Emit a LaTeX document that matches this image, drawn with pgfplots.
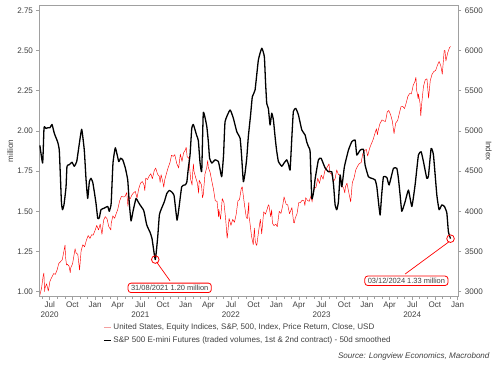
\documentclass[border=0pt]{standalone}
\usepackage{pgfplots}
\pgfplotsset{compat=1.18}
\usepackage{fontspec}
\setmainfont{Liberation Sans}
\definecolor{axisgrey}{HTML}{A0A0A0}
\definecolor{txtgrey}{HTML}{404040}
\definecolor{lightred}{HTML}{F4A0A0}
\definecolor{legblack}{HTML}{303030}

\begin{document}
\begin{tikzpicture}
\useasboundingbox (0,0) rectangle (500bp,375bp);
\pgfplotsset{
  base/.style={scale only axis, width=418.8bp, height=291.4bp,
    at={(39.5bp,78.3bp)}, anchor=south west,
    xmin=4.65, xmax=60.1,
    axis line style={axisgrey, line width=0.6bp},
    tick style={axisgrey, line width=0.6bp},
    tick align=outside, major tick length=3bp, minor tick length=2.5bp,
    tick label style={font=\fontsize{8.1}{9.6}\selectfont, text=txtgrey},
    label style={font=\fontsize{8.1}{10}\selectfont, text=txtgrey},
    /pgf/number format/assume math mode=true},
}
% right axis: S&P 500 index
\begin{axis}[base, axis y line*=right, axis x line=none,
  ymin=2938, ymax=6562, ytick={3000,3500,...,6500},
  /pgf/number format/set thousands separator={},
  ylabel={Index},
  ylabel style={at={(axis description cs:1.073,0.5)}, anchor=center, rotate=180}]
\addplot[red, line width=0.45bp, line join=round] table {
4.69 2955
4.92 3044
5.13 3194
5.23 3232
5.33 3002
5.36 3041
5.59 3098
5.82 3009
6.03 3130
6.30 3185
6.52 3225
6.75 3216
6.98 3271
7.20 3351
7.43 3373
7.66 3397
7.89 3508
8.03 3580
8.10 3427
8.23 3332
8.33 3341
8.56 3319
8.72 3237
8.79 3298
9.03 3348
9.26 3477
9.36 3535
9.49 3483
9.72 3465
9.95 3270
10.16 3509
10.39 3585
10.62 3558
10.85 3638
11.10 3699
11.33 3663
11.56 3709
11.75 3703
11.98 3756
12.23 3825
12.46 3768
12.69 3841
12.92 3714
13.13 3887
13.36 3934
13.59 3907
13.82 3811
14.10 3768
14.13 3842
14.36 3943
14.59 3913
14.82 3975
15.00 4020
15.26 4129
15.49 4185
15.72 4180
15.95 4181
16.20 4233
16.36 4063
16.43 4174
16.66 4156
16.89 4204
17.10 4230
17.33 4247
17.56 4166
17.79 4281
18.03 4352
18.26 4370
18.49 4327
18.59 4258
18.72 4412
18.95 4395
19.16 4437
19.39 4468
19.59 4405
19.85 4509
20.03 4537
20.30 4459
20.52 4433
20.62 4358
20.75 4455
21.00 4357
21.10 4300
21.23 4391
21.46 4471
21.69 4545
21.92 4605
22.13 4697
22.36 4683
22.56 4704
22.82 4595
22.95 4567
23.07 4538
23.30 4712
23.52 4620
23.72 4726
23.98 4766
24.07 4796
24.20 4677
24.43 4663
24.66 4398
24.85 4326
24.89 4432
25.03 4589
25.10 4500
25.33 4419
25.56 4349
25.72 4225
25.79 4385
26.10 4329
26.23 4170
26.33 4204
26.56 4463
26.79 4543
26.92 4631
27.00 4546
27.23 4488
27.43 4393
27.69 4272
27.92 4132
28.16 4123
28.36 3930
28.39 4024
28.62 3901
28.85 4158
29.07 4109
29.30 3901
29.49 3666
29.52 3675
29.75 3912
30.00 3825
30.23 3899
30.46 3863
30.69 3962
30.92 4130
31.13 4145
31.36 4280
31.49 4305
31.59 4228
31.82 4058
32.03 3924
32.16 3908
32.36 4110
32.39 3932
32.49 3873
32.72 3693
32.95 3586
33.10 3791
33.20 3640
33.36 3577
33.43 3583
33.66 3753
33.89 3901
34.07 3720
34.33 3993
34.56 3965
34.79 4026
34.95 4080
35.03 4072
35.26 3934
35.39 4019
35.49 3852
35.69 3822
35.95 3840
36.13 3808
36.39 3999
36.62 3973
36.85 4071
37.03 4179
37.30 4090
37.52 4079
37.75 3970
38.07 4046
38.30 3862
38.39 3855
38.52 3917
38.75 3971
38.98 4109
39.16 4105
39.43 4138
39.66 4133
39.79 4071
39.89 4169
40.13 4136
40.36 4124
40.59 4192
40.75 4115
40.82 4205
41.03 4282
41.26 4299
41.49 4410
41.72 4348
41.95 4450
42.20 4399
42.43 4505
42.66 4536
42.98 4589
43.10 4478
43.33 4464
43.56 4370
43.79 4406
44.00 4515
44.23 4457
44.46 4450
44.69 4320
44.92 4288
45.07 4229
45.16 4308
45.36 4349
45.62 4224
45.85 4117
46.07 4358
46.30 4415
46.52 4514
46.75 4559
47.00 4595
47.23 4604
47.46 4719
47.69 4755
47.92 4770
48.10 4688
48.36 4784
48.59 4840
48.82 4891
49.03 4959
49.26 5027
49.39 4953
49.49 5006
49.72 5089
50.00 5137
50.23 5124
50.46 5117
50.69 5234
50.89 5254
51.13 5204
51.36 5123
51.59 4967
51.82 5100
52.07 5128
52.30 5223
52.52 5303
52.75 5305
52.98 5278
53.20 5347
53.43 5431
53.66 5465
53.89 5460
54.13 5567
54.36 5615
54.49 5667
54.59 5505
54.79 5399
54.82 5459
55.03 5346
55.13 5186
55.26 5344
55.49 5554
55.72 5634
55.95 5648
56.16 5408
56.39 5626
56.62 5703
56.85 5738
57.10 5751
57.33 5815
57.56 5864
57.79 5808
57.98 5705
58.00 5729
58.23 5996
58.33 6001
58.46 5870
58.69 5969
58.92 6032
59.07 6050
};
\end{axis}
% left axis: E-mini volumes
\begin{axis}[base,
  ymin=0.969, ymax=2.781, ytick={1,1.25,...,2.75},
  yticklabel style={/pgf/number format/.cd, fixed, fixed zerofill, precision=2},
  xtick pos=bottom, ytick pos=left,
  xtick={6,9,...,60},
  xticklabels={Jul\\2020,Oct,Jan,Apr,Jul\\2021,Oct,Jan,Apr,Jul\\2022,Oct,Jan,Apr,Jul\\2023,Oct,Jan,Apr,Jul\\2024,Oct,Jan},
  xticklabel style={align=center, yshift=-1bp, inner ysep=1bp},
  minor xtick={5,6,...,60},
  ylabel={million},
  ylabel style={at={(axis description cs:-0.070,0.5)}, anchor=center},
  legend style={at={(axis description cs:0.1516,-0.086)}, anchor=north west,
    draw=none, fill=none, inner sep=0pt, row sep=1.5bp,
    font=\fontsize{8.1}{10}\selectfont, text=txtgrey},
  legend cell align=left,
  legend image code/.code={\draw[#1] (0bp,0bp) -- (7bp,0bp);}]
\addlegendimage{lightred, line width=1bp}
\addlegendentry{United States, Equity Indices, S\&P, 500, Index, Price Return, Close, USD}
\addplot[black, line width=1.3bp, line join=round, smooth, tension=0.25] table {
4.70 1.91
5.07 1.80
5.25 2.02
5.51 2.015
5.78 2.02
6.04 2.02
6.31 2.04
6.61 1.985
7.06 1.93
7.27 1.88
7.43 1.70
7.56 1.55
7.70 1.51
7.89 1.54
8.16 1.65
8.29 1.78
8.60 1.79
8.95 1.805
9.26 1.78
9.58 1.81
9.92 1.92
10.24 2.01
10.58 1.88
10.81 1.70
11.03 1.58
11.25 1.684
11.47 1.705
11.70 1.68
11.91 1.62
12.13 1.55
12.36 1.456
12.57 1.46
12.79 1.51
13.23 1.52
13.68 1.53
13.89 1.50
14.12 1.54
14.19 1.60
14.38 1.80
14.69 1.895
15.14 1.81
15.38 1.83
15.67 1.82
16.01 1.77
16.33 1.695
16.54 1.55
16.77 1.44
17.03 1.50
17.43 1.58
17.70 1.56
17.96 1.54
18.40 1.51
18.53 1.49
18.85 1.415
19.28 1.37
19.55 1.33
19.98 1.20
20.30 1.34
20.52 1.477
20.74 1.51
21.18 1.56
21.50 1.61
21.84 1.63
22.16 1.62
22.46 1.60
22.66 1.52
22.86 1.445
23.06 1.50
23.48 1.653
23.92 1.664
24.15 1.68
24.36 1.77
24.58 1.85
24.81 2.016
25.02 2.04
25.47 1.97
25.68 1.94
25.91 1.80
26.13 1.75
26.34 2.113
26.79 2.03
27.01 1.93
27.17 1.83
27.46 1.80
27.89 1.82
28.33 1.81
28.56 1.76
28.78 1.715
29.02 1.85
29.22 2.057
29.88 2.13
30.32 2.078
30.77 1.995
31.21 1.954
31.40 1.85
31.64 1.684
31.87 1.74
32.09 1.83
32.30 1.964
32.60 2.10
32.83 2.213
33.19 2.254
33.63 2.441
34.08 2.514
34.42 2.461
34.58 2.30
34.74 2.17
34.95 2.14
35.18 2.037
35.40 2.11
35.62 2.068
35.84 1.964
36.04 1.88
36.28 1.81
36.73 1.78
37.03 1.80
37.39 1.82
37.63 1.79
37.83 1.757
38.05 1.95
38.26 2.12
38.58 2.14
38.93 2.10
39.38 2.006
39.81 1.975
40.04 1.93
40.28 1.90
40.48 1.87
40.70 1.58
40.94 1.62
41.14 1.70
41.58 1.82
41.93 1.83
42.46 1.77
42.90 1.746
43.35 1.746
43.59 1.66
43.79 1.54
44.01 1.51
44.23 1.56
44.45 1.726
44.68 1.653
45.02 1.777
45.55 1.88
46.00 1.933
46.44 1.943
46.66 1.85
47.10 1.88
47.54 1.885
47.76 1.788
48.20 1.715
48.65 1.705
49.09 1.695
49.31 1.653
49.55 1.55
49.75 1.477
49.95 1.60
50.19 1.715
50.64 1.71
50.94 1.664
51.51 1.767
51.96 1.767
52.17 1.705
52.40 1.60
52.62 1.50
53.06 1.56
53.50 1.632
53.95 1.53
54.38 1.664
54.82 1.85
55.18 1.87
55.48 1.81
55.93 1.705
56.15 1.72
56.50 1.89
56.81 1.85
57.26 1.60
57.56 1.51
57.92 1.54
58.26 1.53
58.58 1.49
58.79 1.373
59.07 1.33
};
\addlegendentry{S\&P 500 E-mini Futures (traded volumes, 1st \& 2nd contract) - 50d smoothed}
% annotations
\addplot[only marks, mark=o, mark size=3.8bp, red, mark options={line width=0.8bp}, forget plot] coordinates {(19.98,1.20) (59.07,1.33)};
\draw[red, line width=0.7bp] (axis cs:20.15,1.185) -- (axis cs:21.93,1.068);
\draw[red, line width=0.7bp] (axis cs:58.85,1.31) -- (axis cs:53.06,1.110);
\node[draw=red, line width=0.8bp, rounded corners=3bp, fill=white, inner xsep=3bp, inner ysep=2bp,
  font=\fontsize{7.5}{9}\selectfont, text=txtgrey] at (axis cs:21.89,1.024) {31/08/2021 1.20 million};
\node[draw=red, line width=0.8bp, rounded corners=3bp, fill=white, inner xsep=3bp, inner ysep=2bp,
  font=\fontsize{7.5}{9}\selectfont, text=txtgrey] at (axis cs:53.23,1.068) {03/12/2024 1.33 million};
\end{axis}
\node[anchor=east, font=\itshape\fontsize{8.1}{10}\selectfont, text=txtgrey] at (493bp,19bp) {Source: Longview Economics, Macrobond};
\end{tikzpicture}
\end{document}
